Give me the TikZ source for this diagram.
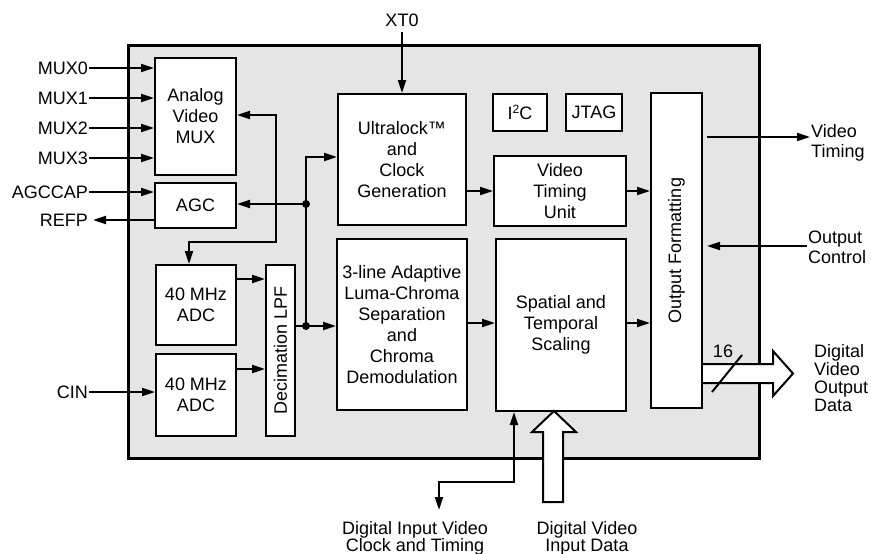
\documentclass[tikz,border=0pt]{standalone}
\usepackage{fontspec}
\setmainfont{Liberation Sans}
\usetikzlibrary{arrows.meta}
\begin{document}
\begin{tikzpicture}[x=1pt,y=-1pt,
  every node/.style={font=\fontsize{18}{21}\selectfont, inner sep=1pt},
  >={Triangle[length=13pt,width=8pt]},
  blk/.style={draw, line width=2pt, fill=white, align=center, inner sep=0pt},
  wire/.style={line width=2pt},
  jdot/.style={circle, fill, inner sep=0pt, minimum size=8pt},
  bus/.style={draw, line width=2pt, fill=white, line join=miter},
  lbl/.style={align=left, font=\fontsize{18}{20}\selectfont}]
\useasboundingbox (0,0) rectangle (871,554);

% chip outline
\node[draw, line width=3pt, fill=gray!20, minimum width=631pt, minimum height=413pt, inner sep=0pt] (chip) at (443.5,251.5) {};

% functional blocks
\node[blk, minimum width=81pt, minimum height=117pt] (amux) at (195.5,116.5) {Analog\\Video\\MUX};
\node[blk, minimum width=81pt, minimum height=45pt] (agc) at (195.5,205.5) {AGC};
\node[blk, minimum width=80pt, minimum height=80pt] (adcA) at (196,305) {40 MHz\\ADC};
\node[blk, minimum width=80pt, minimum height=82pt] (adcB) at (196,395) {40 MHz\\ADC};
\node[blk, minimum width=29pt, minimum height=171pt] (lpf) at (280.5,350.5) {};
\node[rotate=90] (lpftxt) at (lpf.center) {Decimation LPF};
\node[blk, minimum width=128pt, minimum height=131pt] (ulk) at (402,159.5) {Ultralock™\\and\\Clock\\Generation};
\node[blk, minimum width=130pt, minimum height=171pt] (sep) at (402,324.5) {3-line Adaptive\\Luma-Chroma\\Separation\\and\\Chroma\\Demodulation};
\node[blk, minimum width=54pt, minimum height=37pt] (i2c) at (520,112.5) {I\raisebox{0.7ex}{\fontsize{12}{12}\selectfont 2}C};
\node[blk, minimum width=56pt, minimum height=37pt] (jtag) at (594,112.5) {JTAG};
\node[blk, minimum width=132pt, minimum height=70pt] (vtu) at (560,191) {Video\\Timing\\Unit};
\node[blk, minimum width=130pt, minimum height=172pt] (scale) at (561,325) {Spatial and\\Temporal\\Scaling};
\node[blk, minimum width=51pt, minimum height=315pt] (outfmt) at (676.5,250.5) {};
\node[rotate=90] (oftxt) at (outfmt.center) {Output Formatting};

% analog inputs
\foreach \n/\y in {0/68,1/98,2/128,3/158} {
  \node[anchor=east] (in\n) at (89,\y) {MUX\n};
  \draw[wire,->] (in\n.east) -- (in\n.east -| amux.west);
}
\node[anchor=east] (agccap) at (89,192) {AGCCAP};
\draw[wire,->] (agccap.east) -- (agccap.east -| agc.west);
\node[anchor=east] (refp) at (89,220) {REFP};
\draw[wire,->] (refp.east -| agc.west) -- ([xshift=4pt]refp.east);
\node[anchor=east] (cin) at (89,392) {CIN};
\draw[wire,->] (cin.east) -- (cin.east -| adcB.west);

% control bus between MUX and first ADC
\coordinate (busT) at (276,115);
\coordinate (busB) at (276,242);
\coordinate (busL) at (189,242);
\draw[wire,<->] (busT -| amux.east) -- (busT) -- (busB) -- (busL) -- (busL |- adcA.north);

% clock / data distribution
\coordinate (jT) at (306,157);
\node[jdot] (jA) at (306,204) {};
\node[jdot] (jB) at (306,326) {};
\draw[wire,->] (jA.center) -- (jA.center -| agc.east);
\draw[wire,->] (jB.center) -- (jT) -- (jT -| ulk.west);
\draw[wire] (jB.center -| lpf.east) -- (jB.center);
\draw[wire,->] (jB.center) -- (jB.center -| sep.west);

% ADCs into the decimation filter
\draw[wire,->] (adcA.east |- 0,279) -- (lpf.west |- 0,279);
\draw[wire,->] (adcB.east |- 0,369) -- (lpf.west |- 0,369);

% main data path
\draw[wire,->] (ulk.east |- vtu.west) -- (vtu.west);
\draw[wire,->] (vtu.east) -- (vtu.east -| outfmt.west);
\draw[wire,->] (sep.east |- 0,323) -- (scale.west |- 0,323);
\draw[wire,->] (scale.east |- 0,323) -- (outfmt.west |- 0,323);

% crystal input
\node (xt0) at (402,20) {XT0};
\draw[wire,->] ([yshift=-4pt]xt0.south) -- (ulk.north);

% output side
\node[lbl, anchor=north west] (vt) at (810,123) {Video\\Timing};
\coordinate (vtS) at (707,137);
\draw[wire,->] (vtS) -- (vtS -| vt.west);
\node[lbl, anchor=north west] (oc) at (807,230) {Output\\Control};
\coordinate (ocE) at (707,246);
\draw[wire,->] (ocE -| oc.west) -- (ocE);
\node[anchor=north west, align=left, font=\fontsize{18}{18}\selectfont] (dvo) at (813,343) {Digital\\Video\\Output\\Data};
\draw[bus] (outfmt.east |- 0,364) -- (773,364) -- (773,351) -- (793,373.5) -- (773,396) -- (773,383) -- (outfmt.east |- 0,383);
\coordinate (slA) at (712,392);
\coordinate (slB) at (742,355);
\draw[wire] (slA) -- (slB);
\node (w16) at (723,351) {16};

% digital video input
\draw[bus] (543,502) -- (543,432) -- (532,432) -- (554,411) -- (576,432) -- (563,432) -- (563,502) -- cycle;
\coordinate (ck1) at (514,482);
\coordinate (ck2) at (439,482);
\coordinate (ck3) at (439,510);
\draw[wire,<->] (scale.south -| ck1) -- (ck1) -- (ck2) -- (ck3);
\node[align=center, anchor=north, font=\fontsize{18}{17}\selectfont] (diclk) at (415,520) {Digital Input Video\\Clock and Timing};
\node[align=center, anchor=north, font=\fontsize{18}{17}\selectfont] (dvin) at (587,520) {Digital Video\\Input Data};
\end{tikzpicture}
\end{document}
